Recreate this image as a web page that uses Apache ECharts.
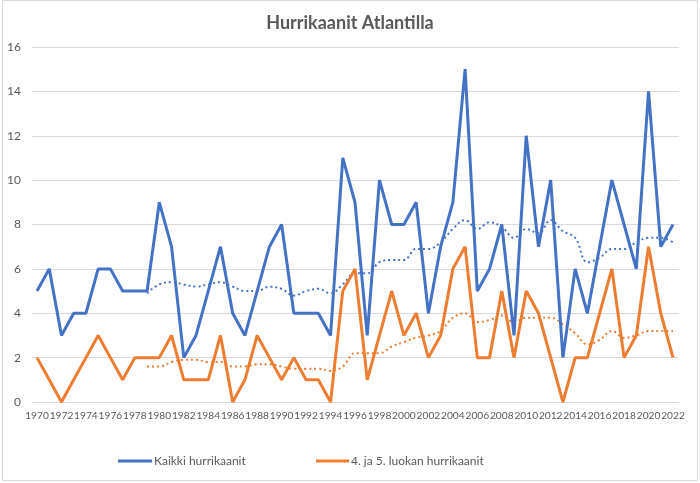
<!DOCTYPE html>
<html>
<head>
<meta charset="utf-8">
<script src="https://cdn.jsdelivr.net/npm/echarts@6/dist/echarts.min.js"></script>
<style>
html,body{margin:0;padding:0;background:#fff;}
#chart{width:700px;height:483px;}
</style>
</head>
<body>
<div id="chart"></div>
<script>
const years = [1970,1971,1972,1973,1974,1975,1976,1977,1978,1979,1980,1981,1982,1983,1984,1985,1986,1987,1988,1989,1990,1991,1992,1993,1994,1995,1996,1997,1998,1999,2000,2001,2002,2003,2004,2005,2006,2007,2008,2009,2010,2011,2012,2013,2014,2015,2016,2017,2018,2019,2020,2021,2022];
const allHurricanes = [5,6,3,4,4,6,6,5,5,5,9,7,2,3,5,7,4,3,5,7,8,4,4,4,3,11,9,3,10,8,8,9,4,7,9,15,5,6,8,3,12,7,10,2,6,4,7,10,8,6,14,7,8];
const majorHurricanes = [2,1,0,1,2,3,2,1,2,2,2,3,1,1,1,3,0,1,3,2,1,2,1,1,0,5,6,1,3,5,3,4,2,3,6,7,2,2,5,2,5,4,2,0,2,2,4,6,2,3,7,4,2];
// trend (10-yr moving average), from 1979 on
const trendStartYear = 1979;
const allTrend = [4.9,5.3,5.4,5.3,5.2,5.3,5.4,5.2,5.0,5.0,5.2,5.1,4.8,5.0,5.1,4.9,5.3,5.8,5.8,6.3,6.4,6.4,6.9,6.9,7.2,7.8,8.2,7.8,8.1,7.9,7.4,7.8,7.6,8.2,7.7,7.4,6.3,6.5,6.9,6.9,7.2,7.4,7.4,7.2];
const majorTrend = [1.6,1.6,1.8,1.9,1.9,1.8,1.8,1.6,1.6,1.7,1.7,1.6,1.5,1.5,1.5,1.4,1.6,2.2,2.2,2.2,2.5,2.7,2.9,3.0,3.2,3.8,4.0,3.6,3.7,3.9,3.6,3.8,3.8,3.8,3.5,3.1,2.6,2.8,3.2,2.9,3.0,3.2,3.2,3.2];
const yTicks = [0,2,4,6,8,10,12,14,16];
const xTickLabels = years.filter(y => y % 2 === 0);
const seriesNames = ['Kaikki hurrikaanit', '4. ja 5. luokan hurrikaanit'];
const titleText = 'Hurrikaanit Atlantilla';

const BLUE = '#4472C4', ORANGE = '#ED7D31', TXT = '#595959', FONT = 'Lato';
const pairs = (vals, start) => vals.map((v, i) => [start !== undefined ? start + i : years[i], v]);

const chart = echarts.init(document.getElementById('chart'), null, {renderer: 'canvas'});
chart.setOption({
  animation: false,
  backgroundColor: '#fff',
  textStyle: {fontFamily: FONT},
  graphic: [{type: 'rect', shape: {x: 2.5, y: 0.5, width: 695, height: 480}, style: {fill: 'none', stroke: '#d9d9d9', lineWidth: 1}, silent: true}],
  title: {
    text: titleText, left: 'center', top: 9,
    textStyle: {fontFamily: FONT, fontSize: 18, fontWeight: 'bold', color: TXT}
  },
  legend: [
    {data: [seriesNames[0]], left: 118, top: 455, padding: 0, icon: 'rect', itemWidth: 34, itemHeight: 3, itemGap: 0,
     textStyle: {fontFamily: FONT, fontSize: 12, color: TXT, padding: [0, 0, 0, -3]}},
    {data: [seriesNames[1]], left: 316, top: 455, padding: 0, icon: 'rect', itemWidth: 33, itemHeight: 3, itemGap: 0,
     textStyle: {fontFamily: FONT, fontSize: 12, color: TXT, padding: [0, 0, 0, -3]}}
  ],
  grid: {left: 32, right: 21, top: 47, bottom: 81, containLabel: false},
  xAxis: {
    type: 'value', min: 1969.59, max: 2022.49,
    axisLine: {show: false}, axisTick: {show: false}, splitLine: {show: false},
    axisLabel: {customValues: xTickLabels, showMinLabel: true, showMaxLabel: true, hideOverlap: false,
      color: TXT, fontFamily: FONT, fontSize: 10.2, margin: 9, formatter: v => String(v)}
  },
  yAxis: {
    type: 'value', min: 0, max: 16, interval: 2,
    axisLine: {show: false}, axisTick: {show: false},
    splitLine: {lineStyle: {color: '#d9d9d9', width: 1}},
    axisLabel: {customValues: yTicks, color: TXT, fontFamily: FONT, fontSize: 12, margin: 11}
  },
  series: [
    {name: seriesNames[0], type: 'line', data: pairs(allHurricanes), symbol: 'none', lineStyle: {color: BLUE, width: 3}, itemStyle: {color: BLUE}, z: 3},
    {name: seriesNames[1], type: 'line', data: pairs(majorHurricanes), symbol: 'none', lineStyle: {color: ORANGE, width: 3}, itemStyle: {color: ORANGE}, z: 3},
    {name: 'allTrend', type: 'line', data: pairs(allTrend, trendStartYear), symbol: 'none', smooth: 0.4, lineStyle: {color: BLUE, width: 2, type: [2, 3]}, z: 2},
    {name: 'majorTrend', type: 'line', data: pairs(majorTrend, trendStartYear), symbol: 'none', smooth: 0.4, lineStyle: {color: ORANGE, width: 2, type: [2, 3]}, z: 2}
  ]
});
</script>
</body>
</html>
